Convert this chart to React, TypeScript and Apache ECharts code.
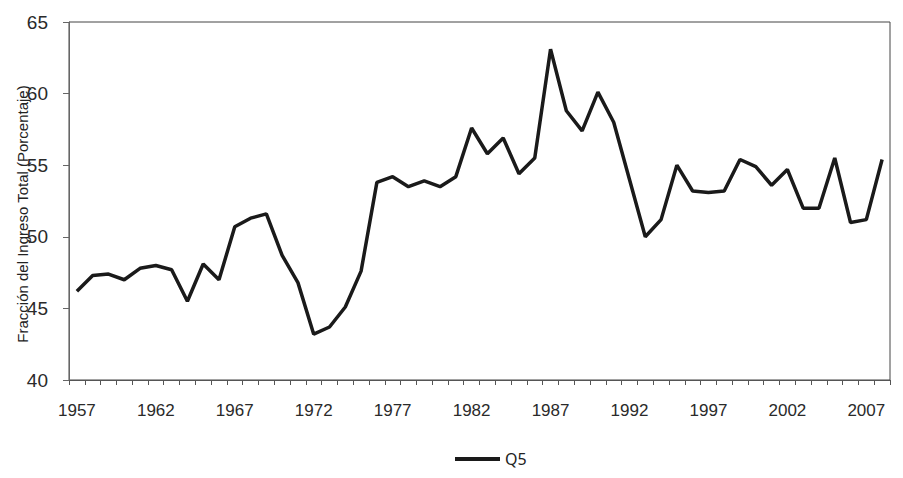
import React, { useEffect, useRef } from "react";
import * as echarts from "echarts";

const years: string[] = [];
for (let y = 1957; y <= 2008; y++) years.push(String(y));

const q5Values = [
  46.2, 47.3, 47.4, 47.0, 47.8, 48.0, 47.7, 45.5, 48.1, 47.0,
  50.7, 51.3, 51.6, 48.7, 46.8, 43.2, 43.7, 45.1, 47.6, 53.8,
  54.2, 53.5, 53.9, 53.5, 54.2, 57.6, 55.8, 56.9, 54.4, 55.5,
  63.1, 58.8, 57.4, 60.1, 58.0, 54.0, 50.0, 51.2, 55.0, 53.2,
  53.1, 53.2, 55.4, 54.9, 53.6, 54.7, 52.0, 52.0, 55.5, 51.0,
  51.2, 55.4,
];

const seriesName = "Q5";
const yTitle = "Fracción del Ingreso Total (Porcentaje)";

export default function App() {
  const ref = useRef<HTMLDivElement>(null);
  useEffect(() => {
    if (!ref.current) return;
    const chart = echarts.init(ref.current, undefined, { renderer: "svg" });
    chart.setOption({
      animation: false,
      grid: {
        left: 69,
        right: 13,
        top: 22,
        bottom: 98,
        containLabel: false,
        outerBoundsMode: "none",
        show: true,
        borderColor: "#444",
        borderWidth: 1,
        backgroundColor: "transparent",
      },
      graphic: [
        {
          type: "text",
          x: 22,
          y: 214,
          rotation: Math.PI / 2,
          style: {
            text: yTitle,
            align: "center",
            verticalAlign: "middle",
            fontSize: 15,
            fill: "#222",
            fontFamily: "Liberation Sans",
          },
        },
      ],
      legend: {
        data: [seriesName],
        top: 451,
        left: 455,
        padding: 0,
        icon: "rect",
        itemWidth: 45,
        itemHeight: 4,
        itemGap: 8,
        textStyle: { fontSize: 16, color: "#222", fontFamily: "Noto Sans" },
      },
      xAxis: {
        type: "category",
        data: years,
        boundaryGap: true,
        axisLine: { lineStyle: { color: "#555", width: 1 } },
        axisTick: { show: true, interval: 0, length: 5, lineStyle: { color: "#555" } },
        axisLabel: {
          interval: 4,
          fontSize: 17,
          color: "#2a2a2a",
          fontFamily: "Liberation Sans",
          margin: 22,
        },
        splitLine: { show: false },
      },
      yAxis: {
        type: "value",
        min: 40,
        max: 65,
        interval: 5,
        axisLine: { show: true, lineStyle: { color: "#666", width: 1 } },
        axisTick: { show: true, length: 6, lineStyle: { color: "#666" } },
        axisLabel: {
          fontSize: 19,
          color: "#2a2a2a",
          fontFamily: "Liberation Sans",
          margin: 21,
        },
        splitLine: { show: false },
      },
      series: [
        {
          name: seriesName,
          type: "line",
          data: q5Values,
          showSymbol: false,
          symbol: "none",
          lineStyle: { color: "#1a1a1a", width: 3.5 },
          itemStyle: { color: "#1a1a1a" },
        },
      ],
    });
    return () => chart.dispose();
  }, []);
  return <div ref={ref} style={{ width: 903, height: 478, margin: -8 }} />;
}
